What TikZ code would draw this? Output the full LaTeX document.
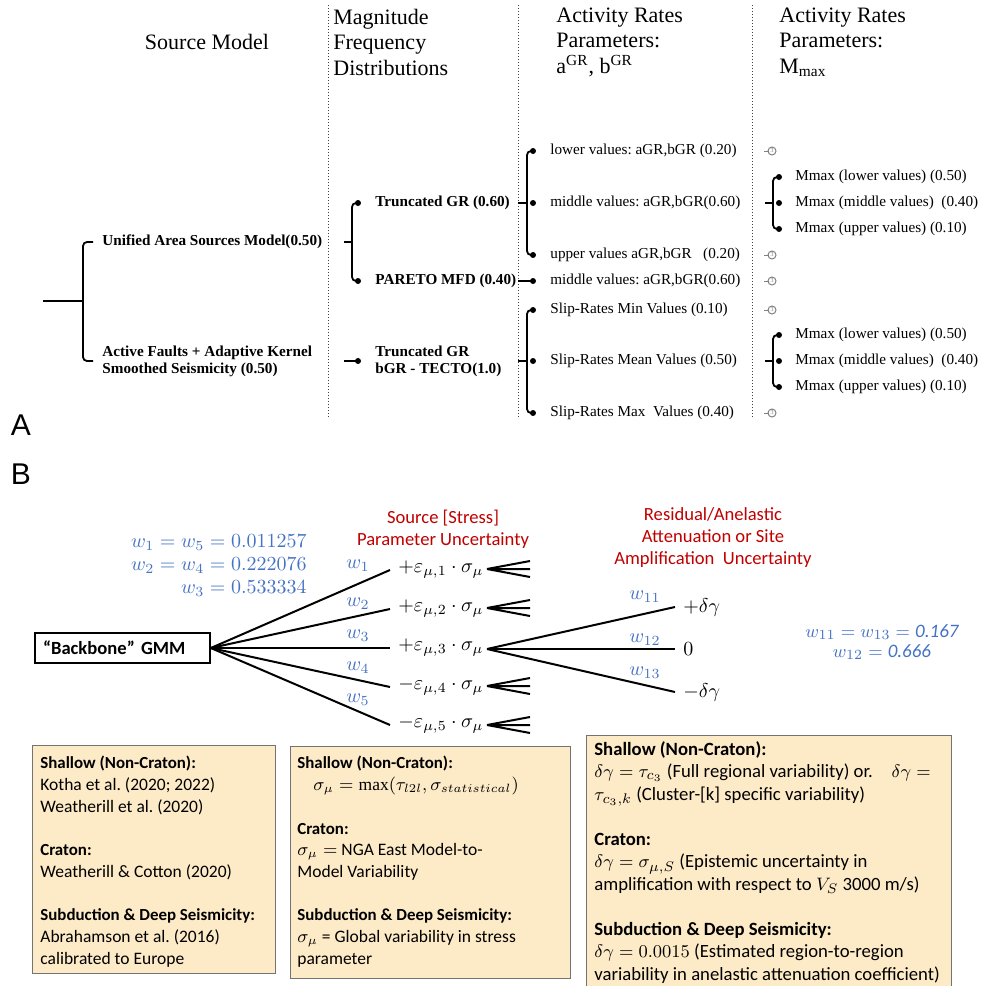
\documentclass[tikz,border=0pt]{standalone}
\usepackage{amsmath,amssymb}
\usepackage{fontspec}
\setmainfont{Liberation Serif}
\newfontfamily\carlito{Carlito}
\newfontfamily\helvsans{Liberation Sans}
\usepackage{tikz}
\usetikzlibrary{calc}
\frenchspacing
\definecolor{wblue}{RGB}{68,114,196}
\definecolor{hdred}{RGB}{192,0,0}
\definecolor{boxtan}{RGB}{253,235,200}
\tikzset{
  hdr/.style={font=\fontsize{11}{12.75}\selectfont, inner sep=0pt, align=left},
  lbl/.style={font=\fontsize{7.6}{8.5}\selectfont, inner sep=0pt, anchor=west, align=left},
  blbl/.style={lbl, font=\fontsize{7.6}{8.5}\selectfont\bfseries},
  brace/.style={line width=0.9pt, rounded corners=2pt},
  dotline/.style={densely dotted, line width=0.5pt, black!75},
  branch/.style={line width=1pt},
  eps/.style={anchor=west, inner xsep=4pt, inner ysep=0pt, font=\fontsize{10}{12}\selectfont},
  wlbl/.style={wblue, font=\fontsize{10}{11.5}\selectfont, inner sep=0pt},
  redhdr/.style={hdred, font=\carlito\fontsize{9.3}{11}\selectfont, align=center, inner sep=0pt},
  boxline/.style={draw=black!55, fill=boxtan, line width=0.5pt},
  notetext/.style={anchor=north west, align=left, inner sep=0pt, font=\carlito\fontsize{8.75}{10.85}\selectfont},
}
\newcommand{\createbrace}[4]{\draw[brace] (#4,#2) -- (#1,#2) -- (#1,#3) -- (#4,#3); \fill (#4,#2) circle (1.5pt) (#4,#3) circle (1.5pt);}
\newcommand{\rateicon}[1]{\draw[gray, line width=0.5pt] (764,#1) -- (769,#1); \draw[gray, line width=0.5pt] (772,#1) circle (2pt); \node[gray, font=\fontsize{3}{3}\selectfont, inner sep=0pt] (ic#1) at (772,#1) {3};}
\newcommand{\bhead}[1]{{\fontsize{8.45}{10.85}\selectfont\bfseries #1}}

\begin{document}
\begin{tikzpicture}[x=0.5pt, y=-0.5pt]
    \useasboundingbox (0,0) rectangle (983,986);
    %panel A headers
    \node[hdr] (hsrc) at (207,42) {Source Model};
    \node[hdr, anchor=west] (hmfd) at (333,42) {Magnitude\\Frequency\\Distributions};
    \node[hdr, anchor=west] (hab) at (556,42) {Activity Rates\\Parameters:\\a\textsuperscript{GR}, b\textsuperscript{GR}};
    \node[hdr, anchor=west] (hmm) at (779,42) {Activity Rates\\Parameters:\\M\textsubscript{max}};
    \foreach \x in {328,518,752} \draw[dotline] (\x,5) -- (\x,417);
    \node[font=\helvsans\fontsize{15}{15}\selectfont, inner sep=0pt] (pa) at (21,425) {A};
    \node[font=\helvsans\fontsize{15}{15}\selectfont, inner sep=0pt] (pb) at (21,474) {B};

    %source model
    \coordinate (root) at (43,301);
    \draw[brace] (root) -- (83,301);
    \draw[brace] (93,242) -- (83,242) -- (83,361) -- (93,361);
    \node[blbl] (uas) at (102,242) {Unified Area Sources Model(0.50)};
    \node[blbl] (afk) at (102,361) {Active Faults + Adaptive Kernel\\Smoothed Seismicity (0.50)};

    %mfd
    \draw[brace] (344,242) -- (352,242);
    \createbrace{352}{203}{281}{358}
    \node[blbl] (tgr) at (375,203) {Truncated GR (0.60)};
    \node[blbl] (par) at (375,281) {PARETO MFD (0.40)};
    \draw[brace] (344,361) -- (358,361);
    \fill (358,361) circle (1.5pt);
    \node[blbl] (tgt) at (375,361) {Truncated GR\\bGR - TECTO(1.0)};

    %a and b values
    \draw[brace] (518,203) -- (527,203);
    \createbrace{527}{151}{255}{533}
    \fill (533,203) circle (1.5pt);
    \draw[brace] (518,281) -- (533,281);
    \fill (533,281) circle (1.5pt);
    \draw[brace] (518,361) -- (527,361);
    \createbrace{527}{310}{413}{533}
    \fill (533,361) circle (1.5pt);
    \node[lbl] (lov) at (550,151) {lower values: aGR,bGR (0.20)};
    \node[lbl] (miv) at (550,203) {middle values: aGR,bGR(0.60)};
    \node[lbl] (upv) at (550,255) {upper values aGR,bGR\ \ \ (0.20)};
    \node[lbl] (pmv) at (550,281) {middle values: aGR,bGR(0.60)};
    \node[lbl] (smin) at (550,310) {Slip-Rates Min Values (0.10)};
    \node[lbl] (smean) at (550,361) {Slip-Rates Mean Values (0.50)};
    \node[lbl] (smax) at (550,413) {Slip-Rates Max\ \ Values (0.40)};

    %mmax
    \foreach \y in {151,255,281,310,413} {\rateicon{\y}}
    \foreach \y [count=\k] in {203,361} {
        \draw[brace] (765,\y) -- (773,\y);
        \createbrace{773}{\y-26}{\y+26}{779}
        \fill (779,\y) circle (1.5pt);
        \node[lbl] (mlo\k) at (795,\y-26) {Mmax (lower values) (0.50)};
        \node[lbl] (mmi\k) at (795,\y) {Mmax (middle values)\ \ (0.40)};
        \node[lbl] (mup\k) at (795,\y+26) {Mmax (upper values) (0.10)};
    }

    %panel B
    \node[draw, line width=0.8pt, minimum height=15pt, inner xsep=4pt, inner ysep=0pt, text width=79.5pt, align=left, font=\carlito\bfseries\fontsize{9.3}{11}\selectfont] (gmm) at (122.5,648) {“Backbone” GMM};
    \node[wlbl, anchor=east, align=right] (wsrc) at (307,566) {$w_1 = w_5 = 0.011257$\\$w_2 = w_4 = 0.222076$\\$w_3 = 0.533334$};
    \node[redhdr] (hstr) at (443,529) {Source [Stress]\\Parameter Uncertainty};
    \node[redhdr] (hres) at (713,538) {Residual/Anelastic\\Attenuation or Site\\Amplification\ \ Uncertainty};
    \foreach \i/\y/\s/\wy in {1/570/+/566, 2/609/+/604, 3/648/+/636, 4/687/-/668, 5/725/-/700} {
        \node[eps] (e\i) at (390,\y) {$\s\varepsilon_{\mu,\i}\cdot\sigma_\mu$};
        \draw[branch] (gmm.east) -- (e\i.west);
        \node[wlbl] (w\i) at (358,\wy) {$w_\i$};
    }
    \foreach \y in {569,608,686,725} {
        \coordinate (tip) at (487,\y);
        \draw[branch] (tip) -- ++(43,-8) (tip) -- ++(43,0) (tip) -- ++(43,8);
    }
    \coordinate (f3) at (487,649);
    \foreach \j/\y/\t/\wy in {1/607/+\delta\gamma/597, 2/649/0/640, 3/692/-\delta\gamma/673} {
        \node[eps] (d\j) at (675,\y) {$\t$};
        \draw[branch] (f3) -- (d\j.west);
        \node[wlbl] (w1\j) at (645,\wy) {$w_{1\j}$};
    }
    \node[wlbl, font=\fontsize{9.5}{10}\selectfont, align=center] (wres) at (882,642) {$w_{11} = w_{13} = \text{\carlito\itshape 0.167}$\\$w_{12} = \text{\carlito\itshape 0.666}$};

    %notes
    \filldraw[boxline] (32,745) rectangle (275,973);
    \filldraw[boxline] (290,746) rectangle (570,978);
    \filldraw[boxline] (586,735) rectangle (951,995);
    \node[notetext] (b1) at (40,756) {\bhead{Shallow (Non-Craton):}\\Kotha et al. (2020; 2022)\\Weatherill et al. (2020)\\[10.85pt]\bhead{Craton:}\\Weatherill \& Cotton (2020)\\[10.85pt]\bhead{Subduction \& Deep Seismicity:}\\Abrahamson et al. (2016)\\calibrated to Europe};
    \node[notetext] (b2) at (297,756) {\bhead{Shallow (Non-Craton):}\\\hspace*{8pt}$\sigma_\mu=\max(\tau_{l2l},\sigma_{statistical})$\\[10.85pt]\bhead{Craton:}\\$\sigma_\mu=$ NGA East Model-to-\\Model Variability\\[10.85pt]\bhead{Subduction \& Deep Seismicity:}\\$\sigma_\mu$ = Global variability in stress\\parameter};
    \node[notetext, font=\carlito\fontsize{9.35}{11.25}\selectfont] (b3) at (594,741) {\textbf{Shallow (Non-Craton):}\\$\delta\gamma=\tau_{c_3}$ (Full regional variability) or.\quad $\delta\gamma=$\\$\tau_{c_3,k}$ (Cluster-[k] specific variability)\\[11.25pt]\textbf{Craton:}\\$\delta\gamma=\sigma_{\mu,S}$ (Epistemic uncertainty in\\amplification with respect to $V_S$ 3000 m/s)\\[11.25pt]\textbf{Subduction \& Deep Seismicity:}\\$\delta\gamma=0.0015$ (Estimated region-to-region\\variability in anelastic attenuation coefficient)};
\end{tikzpicture}
\end{document}
